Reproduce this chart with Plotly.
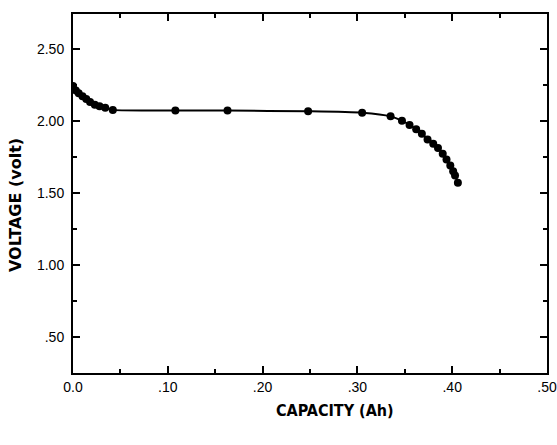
import plotly.graph_objects as go

# Data
capacity = [0.0, 0.003, 0.006, 0.010, 0.014, 0.018, 0.023, 0.028, 0.034, 0.042,
            0.108, 0.163, 0.248, 0.305, 0.335, 0.347, 0.355, 0.362, 0.368, 0.374,
            0.380, 0.385, 0.390, 0.394, 0.398, 0.401, 0.403, 0.406]
voltage = [2.24, 2.21, 2.19, 2.17, 2.15, 2.13, 2.11, 2.10, 2.09, 2.075,
           2.07, 2.07, 2.065, 2.055, 2.03, 2.00, 1.97, 1.94, 1.91, 1.87,
           1.84, 1.81, 1.77, 1.73, 1.69, 1.65, 1.62, 1.57]

x_tick_vals = [0.0, 0.1, 0.2, 0.3, 0.4, 0.5]
x_tick_text = ["0.0", ".10", ".20", ".30", ".40", ".50"]
y_tick_vals = [0.5, 1.0, 1.5, 2.0, 2.5]
y_tick_text = [".50", "1.00", "1.50", "2.00", "2.50"]

tick_font = dict(family="Liberation Sans", size=14, color="black")

fig = go.Figure()
fig.add_trace(go.Scatter(
    x=capacity, y=voltage, mode="lines+markers",
    line=dict(color="black", width=2, shape="spline", smoothing=0.6),
    marker=dict(color="black", size=8),
    showlegend=False,
))

axis_common = dict(
    showline=True, linecolor="black", linewidth=2, mirror="allticks",
    ticks="inside", ticklen=7, tickwidth=2, tickcolor="black",
    showgrid=False, zeroline=False, automargin=False,
    tickfont=tick_font,
)

fig.update_xaxes(
    range=[0, 0.5], tickvals=x_tick_vals, ticktext=x_tick_text,
    minor=dict(dtick=0.05, tick0=0, ticks="inside", ticklen=4, tickwidth=2, tickcolor="black"),
    **axis_common,
)
fig.update_yaxes(
    range=[0.25, 2.74], tickvals=y_tick_vals, ticktext=y_tick_text,
    minor=dict(dtick=0.25, tick0=0, ticks="inside", ticklen=4, tickwidth=2, tickcolor="black"),
    ticklabelstandoff=4,
    **axis_common,
)

fig.add_annotation(
    text="CAPACITY (Ah)", xref="paper", yref="paper",
    x=(335 - 73) / 474, y=-(410 - 373) / 359, showarrow=False,
    xanchor="center", yanchor="middle",
    font=dict(family="DejaVu Sans Condensed, Liberation Sans Narrow, sans-serif",
              size=16, color="black", weight="bold"),
)
fig.add_annotation(
    text="VOLTAGE (volt)", xref="paper", yref="paper",
    x=-(73 - 15) / 474, y=(373 - 205) / 359, showarrow=False, textangle=-90,
    xanchor="center", yanchor="middle",
    font=dict(family="DejaVu Sans, sans-serif", size=16, color="black", weight="bold"),
)

fig.update_layout(
    width=557, height=445,
    margin=dict(l=73, r=10, t=14, b=72),
    paper_bgcolor="white", plot_bgcolor="white",
)

fig.write_html("out.html", post_script="document.body.style.margin='0';",
               config={"displayModeBar": False})
